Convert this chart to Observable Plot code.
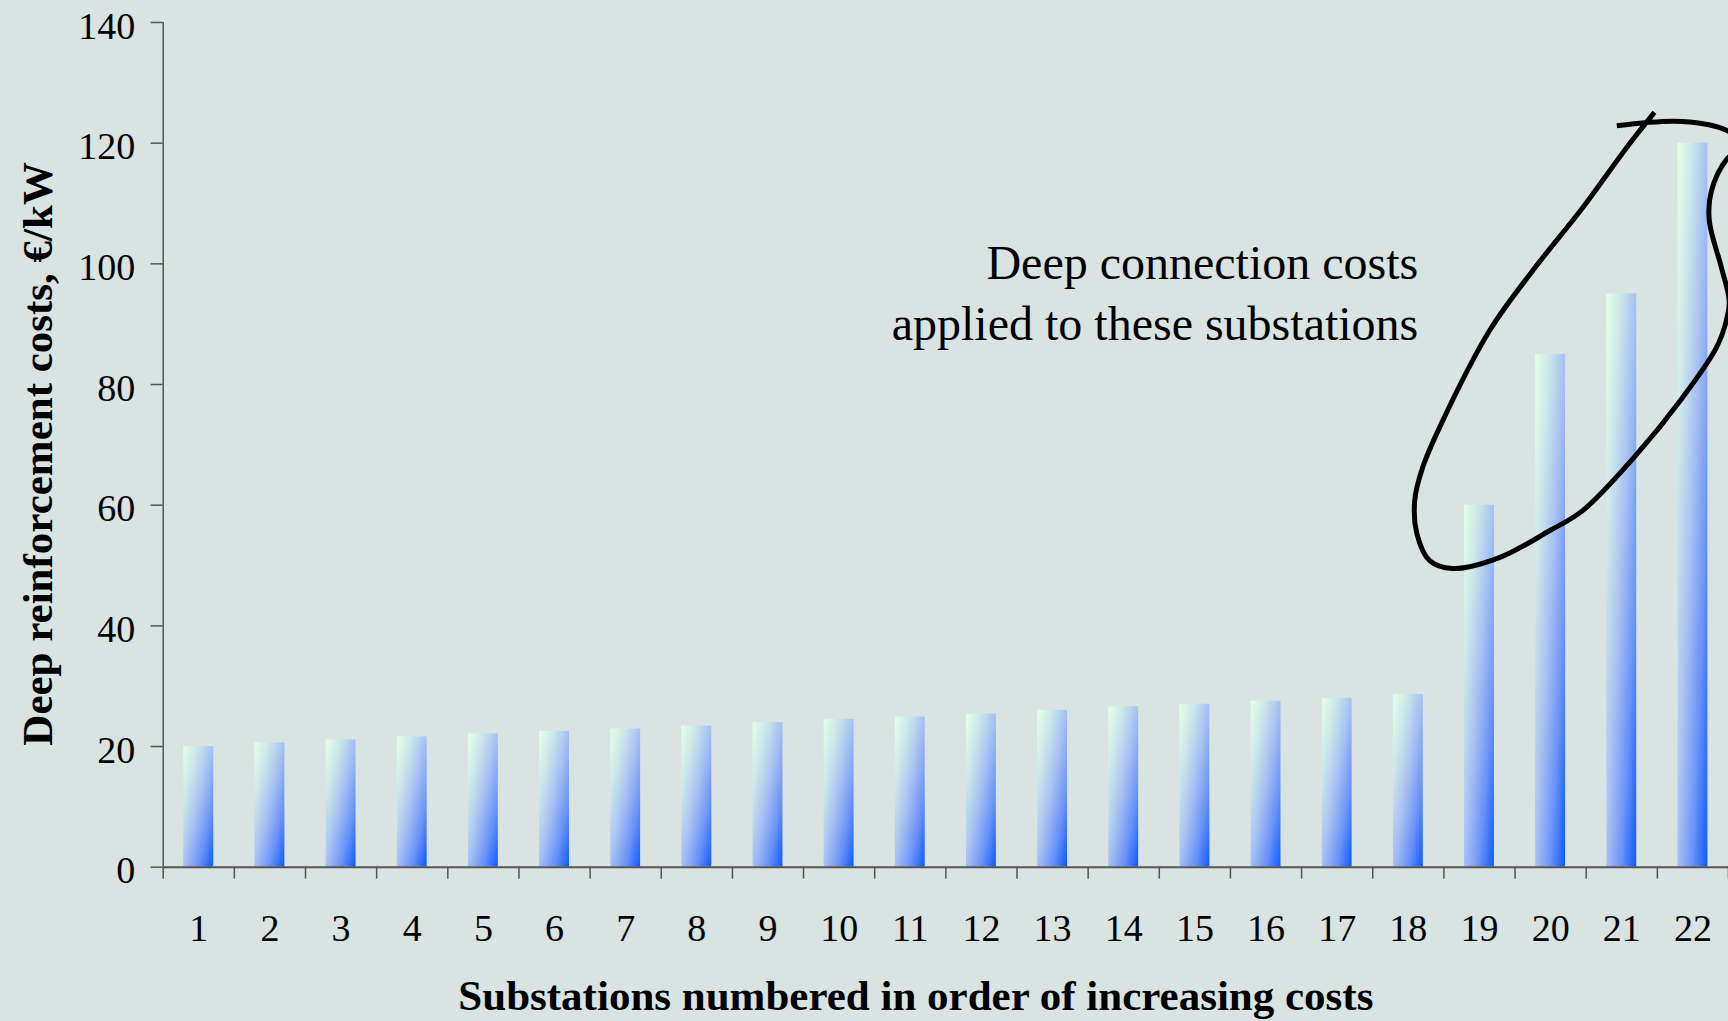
<!DOCTYPE html>
<html>
<head>
<meta charset="utf-8">
<script src="https://cdn.jsdelivr.net/npm/d3@7"></script>
<script src="https://cdn.jsdelivr.net/npm/@observablehq/plot@0.6"></script>
<style>
  html, body { margin: 0; padding: 0; background: #d9e3e1; overflow: hidden; }
  #chart svg { display: block; }
</style>
</head>
<body>
<div id="chart"></div>
<script>
// ---- data ----
const substations = [1, 2, 3, 4, 5, 6, 7, 8, 9, 10, 11, 12, 13, 14, 15, 16, 17, 18, 19, 20, 21, 22];
const costs = [20, 20.6, 21.1, 21.6, 22.1, 22.5, 22.9, 23.4, 24.0, 24.5, 24.9, 25.4, 26.0, 26.6, 27.0, 27.5, 28.0, 28.6, 60, 85, 95, 120];
const yTicks = [0, 20, 40, 60, 80, 100, 120, 140];
const yLabel = "Deep reinforcement costs, €/kW";
const xLabel = "Substations numbered in order of increasing costs";
const noteLines = ["Deep connection costs", "applied to these substations"];
// hand-drawn loop around substations 19–22, in data units (substation position, €/kW)
const loopX = [20.93, 21.85, 22.48, 22.72, 22.48, 22.26, 22.23, 22.40, 22.51, 22.47, 22.33, 21.84, 21.20, 20.45, 19.99, 19.28, 18.62, 18.30, 18.12, 18.09, 18.20, 18.44, 19.14, 19.75, 20.45, 21.07, 21.46];
const loopY = [122.9, 123.6, 122.1, 119.6, 117.4, 112.1, 107.2, 99.4, 93.9, 90.6, 86.1, 77.6, 68.3, 59.1, 55.8, 51.3, 49.5, 50.8, 55.3, 60.8, 66.2, 72.9, 88.9, 98.9, 109.3, 119.3, 125.1];

const bars = substations.map((s, i) => ({s, cost: costs[i]}));
const loop = loopX.map((x, i) => ({x, y: loopY[i]}));
const bounds = substations.map(s => s - 0.5).concat([substations[substations.length - 1] + 0.5]);

const defs = () => {
  const svgDefs = d3.create("svg:defs");
  const g = svgDefs.append("linearGradient")
    .attr("id", "barGrad")
    .attr("x1", 0).attr("y1", 0).attr("x2", 1).attr("y2", 1);
  g.append("stop").attr("offset", "0%").attr("stop-color", "#e6ffe4");
  g.append("stop").attr("offset", "25%").attr("stop-color", "#cbe6ea");
  g.append("stop").attr("offset", "50%").attr("stop-color", "#a6c0f3");
  g.append("stop").attr("offset", "75%").attr("stop-color", "#6b93f7");
  g.append("stop").attr("offset", "100%").attr("stop-color", "#0a5aff");
  return svgDefs.node();
};

const serif = "'Liberation Serif', 'Times New Roman', serif";

const chart = Plot.plot({
  width: 1728,
  height: 1021,
  marginLeft: 162.7,
  marginRight: 0,
  marginTop: 22,
  marginBottom: 154.3,
  style: {background: "#d9e3e1", fontFamily: serif, color: "black", overflow: "hidden"},
  x: {type: "linear", domain: [0.5, 22.5]},
  y: {domain: [0, 140]},
  marks: [
    defs,
    Plot.rectY(bars, {x1: d => d.s - 0.21, x2: d => d.s + 0.21, y: "cost", fill: "url(#barGrad)"}),
    Plot.axisY({ticks: yTicks, tickSize: 12, tickFormat: () => "", label: null, stroke: "#555", strokeWidth: 1.5}),
    Plot.axisX({ticks: bounds, tickSize: 12, tickFormat: () => "", label: null, stroke: "#555", strokeWidth: 1.5}),
    Plot.ruleX([0.5], {y1: 0, y2: 140, stroke: "#555", strokeWidth: 1.5}),
    Plot.ruleY([0], {stroke: "#555", strokeWidth: 2}),
    Plot.text(yTicks, {x: 0.5, y: d => d, text: d => String(d), dx: -28, dy: 4, textAnchor: "end", lineAnchor: "middle", fontSize: 38, fill: "black"}),
    Plot.text(substations, {x: d => d, y: 0, text: d => String(d), dy: 62, lineAnchor: "middle", fontSize: 38, fill: "black"}),
    Plot.text([xLabel], {frameAnchor: "bottom", textAnchor: "middle", dx: -30, dy: 129, lineAnchor: "middle", fontSize: 43, fontWeight: "bold", fill: "black"}),
    Plot.text([yLabel], {frameAnchor: "left", textAnchor: "middle", dx: -125, dy: 9, rotate: -90, lineAnchor: "middle", fontSize: 43, fontWeight: "bold", fill: "black"}),
    Plot.text(noteLines, {x: 18.14, y: (d, i) => [100, 90][i], text: d => d, textAnchor: "end", lineAnchor: "middle", fontSize: 48, fill: "black"}),
    Plot.line(loop, {x: "x", y: "y", curve: "catmull-rom", stroke: "black", strokeWidth: 5, strokeLinecap: "butt"})
  ]
});
document.getElementById("chart").appendChild(chart);
</script>
</body>
</html>
